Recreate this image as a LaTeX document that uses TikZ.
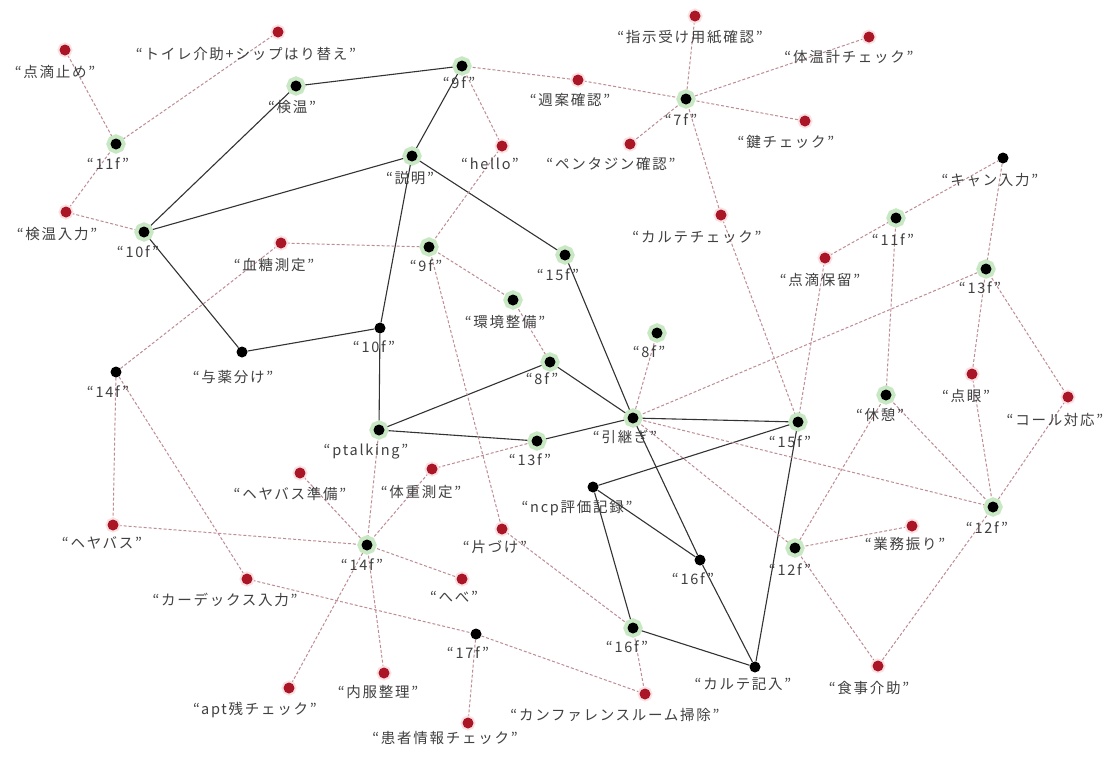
\documentclass[tikz,border=0pt]{standalone}
\usepackage{fontspec}
\newfontfamily\jp[LetterSpace=12]{Noto Sans CJK JP}
\usetikzlibrary{backgrounds}
\begin{document}
\begin{tikzpicture}[x=1pt,y=-1pt,
 gn/.style={circle,fill=black,minimum size=11pt,inner sep=0pt,preaction={draw={rgb,255:red,200;green,232;blue,195},line width=8pt}},
 bn/.style={circle,fill=black,minimum size=11pt,inner sep=0pt},
 rn/.style={circle,fill={rgb,255:red,170;green,22;blue,38},minimum size=11pt,inner sep=0pt,preaction={draw={rgb,255:red,250;green,225;blue,228},line width=4pt}},
 lb/.style={font=\jp\fontsize{14.5}{16}\selectfont,text=black!75,inner sep=0pt},
 se/.style={draw=black!80,line width=1.1pt},
 de/.style={draw={rgb,255:red,190;green,140;blue,148},line width=1pt,dash pattern=on 3pt off 2pt}]
\useasboundingbox (0,0) rectangle (1104,756);
% nodes
\node[rn] (tome) at (65,50) {};
\node[rn] (toire) at (278,32) {};
\node[gn] (kenon) at (296,86) {};
\node[gn] (f11a) at (116,144) {};
\node[rn] (kenonnyu) at (66,212) {};
\node[gn] (f10a) at (144,232) {};
\node[gn] (f9a) at (462,66) {};
\node[rn] (shuan) at (578,80) {};
\node[rn] (shiji) at (695,16) {};
\node[rn] (taionkei) at (869,37) {};
\node[gn] (f7) at (686,99) {};
\node[rn] (kagi) at (805,121) {};
\node[rn] (penta) at (630,144) {};
\node[rn] (hello) at (502,146) {};
\node[gn] (setsu) at (412,156) {};
\node[bn] (kyan) at (1003,158) {};
\node[rn] (kchk) at (721,215) {};
\node[gn] (f11b) at (896,218) {};
\node[rn] (horyu) at (825,258) {};
\node[gn] (f13b) at (986,269) {};
\node[rn] (kettou) at (281,243) {};
\node[gn] (f9b) at (429,247) {};
\node[gn] (f15a) at (565,255) {};
\node[gn] (kankyo) at (513,300) {};
\node[gn] (f8b) at (657,333) {};
\node[bn] (f10b) at (380,328) {};
\node[bn] (yoyaku) at (242,352) {};
\node[bn] (f14a) at (116,372) {};
\node[gn] (f8a) at (550,362) {};
\node[rn] (tengan) at (972,374) {};
\node[rn] (call) at (1068,397) {};
\node[gn] (kyukei) at (886,395) {};
\node[gn] (ptalk) at (379,430) {};
\node[gn] (hiki) at (633,418) {};
\node[gn] (f15b) at (798,422) {};
\node[gn] (f13a) at (537,441) {};
\node[rn] (hbj) at (300,473) {};
\node[rn] (taiju) at (432,469) {};
\node[bn] (ncp) at (593,487) {};
\node[gn] (f12b) at (993,507) {};
\node[rn] (hb) at (113,525) {};
\node[gn] (f14b) at (367,545) {};
\node[rn] (kata) at (502,529) {};
\node[rn] (gyomu) at (912,526) {};
\node[gn] (f12a) at (795,548) {};
\node[bn] (f16b) at (700,560) {};
\node[rn] (hebe) at (462,579) {};
\node[rn] (kardex) at (247,579) {};
\node[gn] (f16a) at (633,628) {};
\node[bn] (f17) at (476,634) {};
\node[bn] (kkinyu) at (755,667) {};
\node[rn] (shokuji) at (878,666) {};
\node[rn] (apt) at (289,688) {};
\node[rn] (naifuku) at (384,673) {};
\node[rn] (kanfa) at (645,694) {};
\node[rn] (kanja) at (468,723) {};
% labels
\node[lb] (ltome) at (55,72) {“点滴止め”};
\node[lb] (ltoire) at (246,54) {“トイレ介助+シップはり替え”};
\node[lb] (lkenon) at (292,107) {“検温”};
\node[lb] (lf11a) at (108,164) {“11f”};
\node[lb] (lkenonnyu) at (57,234) {“検温入力”};
\node[lb] (lf10a) at (138,252) {“10f”};
\node[lb] (lf9a) at (459,83) {“9f”};
\node[lb] (lshuan) at (570,100) {“週案確認”};
\node[lb] (lshiji) at (690,37) {“指示受け用紙確認”};
\node[lb] (ltaionkei) at (849,57) {“体温計チェック”};
\node[lb] (lf7) at (681,120) {“7f”};
\node[lb] (lkagi) at (786,142) {“鍵チェック”};
\node[lb] (lpenta) at (611,164) {“ペンタジン確認”};
\node[lb] (lhello) at (490,164) {“hello”};
\node[lb] (lsetsu) at (410,178) {“説明”};
\node[lb] (lkyan) at (990,180) {“キャン入力”};
\node[lb] (lkchk) at (697,237) {“カルテチェック”};
\node[lb] (lf11b) at (893,240) {“11f”};
\node[lb] (lhoryu) at (820,280) {“点滴保留”};
\node[lb] (lf13b) at (980,288) {“13f”};
\node[lb] (lkettou) at (274,265) {“血糖測定”};
\node[lb] (lf9b) at (426,266) {“9f”};
\node[lb] (lf15a) at (558,275) {“15f”};
\node[lb] (lkankyo) at (505,322) {“環境整備”};
\node[lb] (lf8b) at (649,352) {“8f”};
\node[lb] (lf10b) at (374,347) {“10f”};
\node[lb] (lyoyaku) at (233,377) {“与薬分け”};
\node[lb] (lf14a) at (108,392) {“14f”};
\node[lb] (lf8a) at (542,379) {“8f”};
\node[lb] (ltengan) at (966,396) {“点眼”};
\node[lb] (lcall) at (1055,420) {“コール対応”};
\node[lb] (lkyukei) at (880,415) {“休憩”};
\node[lb] (lptalk) at (366,452) {“ptalking”};
\node[lb] (lhiki) at (625,437) {“引継ぎ”};
\node[lb] (lf15b) at (790,442) {“15f”};
\node[lb] (lf13a) at (530,460) {“13f”};
\node[lb] (lhbj) at (290,494) {“ヘヤバス準備”};
\node[lb] (ltaiju) at (421,492) {“体重測定”};
\node[lb] (lncp) at (577,508) {“ncp評価記録”};
\node[lb] (lf12b) at (987,528) {“12f”};
\node[lb] (lhb) at (102,543) {“ヘヤバス”};
\node[lb] (lf14b) at (362,565) {“14f”};
\node[lb] (lkata) at (495,547) {“片づけ”};
\node[lb] (lgyomu) at (905,544) {“業務振り”};
\node[lb] (lf12a) at (790,570) {“12f”};
\node[lb] (lf16b) at (693,579) {“16f”};
\node[lb] (lhebe) at (454,597) {“へべ”};
\node[lb] (lkardex) at (225,600) {“カーデックス入力”};
\node[lb] (lf16a) at (627,647) {“16f”};
\node[lb] (lf17) at (468,653) {“17f”};
\node[lb] (lkkinyu) at (743,684) {“カルテ記入”};
\node[lb] (lshokuji) at (869,688) {“食事介助”};
\node[lb] (lapt) at (255,710) {“apt残チェック”};
\node[lb] (lnaifuku) at (378,692) {“内服整理”};
\node[lb] (lkanfa) at (615,715) {“カンファレンスルーム掃除”};
\node[lb] (lkanja) at (445,738) {“患者情報チェック”};
\begin{scope}[on background layer]
\fill[white] (0,0) rectangle (1104,756);
% solid edges
\foreach \a/\b in {kenon/f9a,kenon/f10a,f10a/setsu,f10a/yoyaku,yoyaku/f10b,f9a/setsu,setsu/f15a,setsu/f10b,f10b/ptalk,ptalk/f8a,ptalk/f13a,f13a/hiki,f8a/hiki,f15a/hiki,hiki/f16b,hiki/f15b,f15b/ncp,f15b/kkinyu,ncp/f16b,ncp/f16a,f16a/kkinyu,f16b/kkinyu}
  \draw[se] (\a) -- (\b);
% dashed edges
\foreach \a/\b in {tome/f11a,toire/f11a,f11a/kenonnyu,kenonnyu/f10a,f9a/shuan,shuan/f7,f9a/hello,shiji/f7,taionkei/f7,f7/kagi,f7/penta,f7/kchk,kchk/f15b,hello/f9b,kettou/f9b,kettou/f14a,f9b/kankyo,kankyo/f8a,f9b/kata,kata/f16a,f8b/hiki,hiki/f13b,hiki/f12b,hiki/f12a,horyu/f11b,horyu/f15b,f11b/kyan,f11b/kyukei,kyan/f13b,f13b/tengan,f13b/call,tengan/f12b,call/f12b,kyukei/f12b,kyukei/f12a,f12a/gyomu,f12a/shokuji,f12b/shokuji,f14a/hb,f14a/kardex,hb/f14b,hbj/f14b,ptalk/f14b,taiju/f14b,taiju/f13a,f14b/hebe,f14b/naifuku,kardex/f17,f17/kanfa,apt/f14b,f17/kanja,f16a/kanfa}
  \draw[de] (\a) -- (\b);
\end{scope}
\end{tikzpicture}
\end{document}
